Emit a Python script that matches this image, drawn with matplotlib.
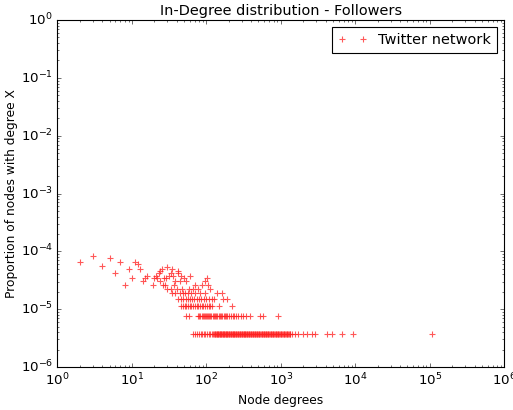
import numpy as np
import matplotlib
matplotlib.use('Agg')
import matplotlib.pyplot as plt

plt.style.use('classic')

# total number of nodes (a degree seen once -> 1 / N_NODES)
N_NODES = 264000

# degrees observed exactly once
deg_c1 = [66, 70, 74, 79, 84, 88, 93, 97, 103, 108, 113, 119,
          124, 127, 129, 132, 134, 137, 140, 142, 145, 147, 150, 153, 156, 159,
          162, 165, 168, 171, 174, 177, 181, 185, 188, 192, 196, 199, 203, 207,
          212, 216, 220, 225, 229, 234, 238, 243, 248, 253, 258, 263, 268, 274,
          279, 285, 291, 297, 303, 309, 316, 322, 329, 335, 342, 349, 356, 364,
          371, 379, 387, 395, 403, 412, 420, 429, 438, 447, 456, 466, 475, 485,
          495, 506, 516, 527, 538, 550, 562, 574, 586, 598, 611, 624, 637, 651,
          665, 680, 695, 710, 726, 742, 759, 776, 793, 811, 829, 848, 867, 887,
          907, 928, 949, 971, 993, 1016, 1040, 1064, 1088, 1114, 1140, 1166,
          1193, 1221, 1250, 1280, 1310, 1340,
          1420, 1530, 1700, 1960, 2250, 2600, 2850, 4150, 4830, 6650, 9400,
          108000]

# degrees observed twice
deg_c2 = [54, 59, 77, 80, 83, 86, 89, 92, 95, 98, 102, 105, 109, 113, 117,
          121, 125, 130, 135, 140, 146, 151, 157, 163, 170, 177, 184, 192, 200,
          212, 225, 238, 252, 268, 290, 310, 340, 380, 525, 580, 925]

# degrees observed three times
deg_c3 = [46, 48, 51, 54, 57, 60, 63, 66, 70, 74, 78, 82, 86, 91, 96, 101,
          107, 113, 120, 148, 218]

# degrees observed four times
deg_c4 = [42, 45, 49, 53, 57, 61, 65, 69, 74, 79, 85, 92, 99, 108, 118, 128,
          165, 190]

# the scattered cloud of low degrees
cloud_degrees = [35, 38, 44, 48, 52, 56, 62, 70, 82, 95, 138, 160,
                 30, 33, 40, 47, 58, 66, 78, 112,
                 8, 19, 26, 28, 37, 71, 88, 106,
                 14, 24, 38, 44, 54, 95,
                 10, 15, 20, 22, 27, 29, 50, 101,
                 16, 21, 31, 36, 45, 60,
                 6, 23, 33, 42,
                 24, 41,
                 9, 13, 25, 34,
                 30, 4, 12, 2, 7, 11, 5, 3]
cloud_counts = [5, 5, 5, 5, 5, 5, 5, 5, 5, 5, 5, 5,
                6, 6, 6, 6, 6, 6, 6, 6,
                7, 7, 7, 7, 7, 7, 7, 7,
                8, 8, 8, 8, 8, 8,
                9, 9, 9, 9, 9, 9, 9, 9,
                10, 10, 10, 10, 10, 10,
                11, 11, 11, 11,
                12, 12,
                13, 13, 13, 13,
                14, 15, 16, 17, 17, 17, 20, 22]

degrees = np.array(deg_c1 + deg_c2 + deg_c3 + deg_c4 + cloud_degrees, dtype=float)
counts = np.array([1] * len(deg_c1) + [2] * len(deg_c2) + [3] * len(deg_c3)
                  + [4] * len(deg_c4) + cloud_counts, dtype=float)
proportions = counts / N_NODES

fig = plt.figure(figsize=(513 / 80, 410 / 80), dpi=80, facecolor='white')
ax = fig.add_axes([0.112, 0.105, 0.871, 0.846])
ax.loglog(degrees, proportions, linestyle='none', marker='+',
          color='#ff2020', markeredgecolor='#ff2020',
          markeredgewidth=1.0, markersize=6, alpha=0.75,
          label='Twitter network')
ax.set_xlim(1, 1e6)
ax.set_ylim(1e-6, 1)
ax.set_title('In-Degree distribution - Followers', fontsize=13)
ax.set_xlabel('Node degrees', fontsize=11)
ax.set_ylabel('Proportion of nodes with degree X', fontsize=11, labelpad=2)
ax.tick_params(labelsize=12)
ax.legend(loc='upper right', fontsize=13)

fig.savefig('out.png', dpi=80, facecolor='white')
